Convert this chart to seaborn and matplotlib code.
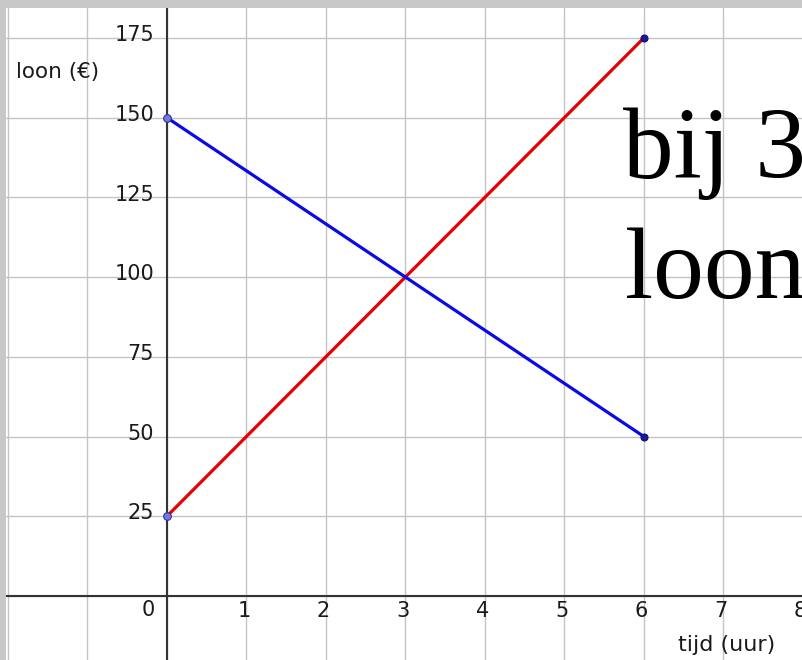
import matplotlib
matplotlib.use("Agg")
import matplotlib.pyplot as plt
import seaborn as sns
import pandas as pd

# data
uren = [0, 6]
loon_rood = [25, 175]
loon_blauw = [150, 50]
x_ticks = [-2, -1, 0, 1, 2, 3, 4, 5, 6, 7, 8]
x_labels = ["1", "2", "3", "4", "5", "6", "7", "8"]
y_ticks = [-25, 0, 25, 50, 75, 100, 125, 150, 175]
y_labels = ["25", "50", "75", "100", "125", "150", "175"]

sns.set_style("white")
plt.rcParams['font.family'] = ['DejaVu Sans']

df = pd.DataFrame({
    "tijd": uren + uren,
    "loon": loon_rood + loon_blauw,
    "lijn": ["rood"] * 2 + ["blauw"] * 2,
})

fig = plt.figure(figsize=(8.02, 6.6), dpi=100, facecolor="#c8c8c8")
ax = fig.add_axes([6 / 802, 0, 796 / 802, 652 / 660])
ax.set_facecolor("white")

sns.lineplot(data=df, x="tijd", y="loon", hue="lijn",
             palette={"rood": "#e60000", "blauw": "#0a0ae6"},
             linewidth=2.3, legend=False, ax=ax, zorder=3)
# endpoints
ax.plot([0, 0], [loon_rood[0], loon_blauw[0]], "o", ms=5.5, mfc="#7878dc",
        mec="#3030a0", mew=0.8, zorder=4)
ax.plot([6, 6], [loon_rood[1], loon_blauw[1]], "o", ms=5, mfc="#1a1aa0",
        mec="#10106a", mew=0.8, zorder=4)

# ticks first, then limits (set_yticks would stretch the limits otherwise)
ax.set_xticks(x_ticks)
ax.set_yticks(y_ticks)
ax.set_xlim(-2.025, 7.99)
ax.set_ylim(-20.1, 184.4)
ax.tick_params(length=0, labelbottom=False, labelleft=False)
ax.grid(True, color="#c4c4c4", linewidth=1.0)
for s in ax.spines.values():
    s.set_visible(False)
ax.axhline(0, color="#333333", lw=1.5, zorder=2)
ax.axvline(0, color="#333333", lw=1.5, zorder=2)
ax.set_xlabel("")
ax.set_ylabel("")

for t, lab in zip(x_ticks[3:], x_labels):
    ax.text(t - 0.03, -4.7, lab, ha="center", va="center", fontsize=15, color="#1a1a1a")
for t, lab in zip(y_ticks[2:], y_labels):
    ax.text(-0.16, t + 0.9, lab, ha="right", va="center", fontsize=15, color="#1a1a1a")
ax.text(-0.23, -4.4, "0", ha="center", va="center", fontsize=15, color="#1a1a1a")

ax.text(-1.37, 164.4, "loon (€)", ha="center", va="center", fontsize=15.5, color="#1a1a1a")
ax.text(7.04, -15.4, "tijd (uur)", ha="center", va="center", fontsize=16, color="#1a1a1a")

ax.text(5.74, 131, "bij 3", ha="left", va="baseline", fontsize=73,
        family="Liberation Serif", color="black", clip_on=True)
ax.text(5.76, 93.5, "loon", ha="left", va="baseline", fontsize=73,
        family="Liberation Serif", color="black", clip_on=True)

fig.savefig("out.png", dpi=100, facecolor=fig.get_facecolor())
